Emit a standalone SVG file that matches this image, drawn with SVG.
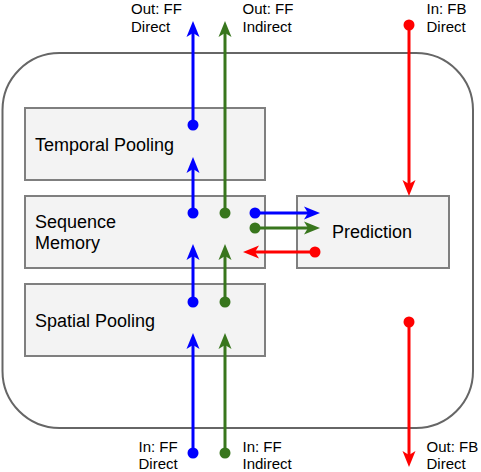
<svg xmlns="http://www.w3.org/2000/svg" width="481" height="472" viewBox="0 0 481 472">
<style>
.box{fill:#f3f3f3;stroke:#7f7f7f;stroke-width:2}
.lbl{font-family:"Liberation Sans",Arial,sans-serif;font-size:18px;fill:#000}
.io{font-family:"Liberation Sans",Arial,sans-serif;font-size:15px;fill:#000}
.b{stroke:#0000ff;stroke-width:3;fill:none;marker-start:url(#db);marker-end:url(#ab)}
.g{stroke:#38761d;stroke-width:3;fill:none;marker-start:url(#dg);marker-end:url(#ag)}
.r{stroke:#ff0000;stroke-width:3;fill:none;marker-start:url(#dr);marker-end:url(#ar)}
</style>
<defs>
<marker id="ab" markerUnits="userSpaceOnUse" viewBox="0 -8 20 16" markerWidth="20" markerHeight="16" refX="10" refY="0" orient="auto"><path d="M16,0 L0,-6.5 L4,0 L0,6.5 Z" fill="#0000ff"/></marker>
<marker id="ag" markerUnits="userSpaceOnUse" viewBox="0 -8 20 16" markerWidth="20" markerHeight="16" refX="10" refY="0" orient="auto"><path d="M16,0 L0,-6.5 L4,0 L0,6.5 Z" fill="#38761d"/></marker>
<marker id="ar" markerUnits="userSpaceOnUse" viewBox="0 -8 20 16" markerWidth="20" markerHeight="16" refX="10" refY="0" orient="auto"><path d="M16,0 L0,-6.5 L4,0 L0,6.5 Z" fill="#ff0000"/></marker>
<marker id="db" markerUnits="userSpaceOnUse" viewBox="-6 -6 12 12" markerWidth="12" markerHeight="12" refX="0" refY="0"><circle r="5.5" fill="#0000ff"/></marker>
<marker id="dg" markerUnits="userSpaceOnUse" viewBox="-6 -6 12 12" markerWidth="12" markerHeight="12" refX="0" refY="0"><circle r="5.5" fill="#38761d"/></marker>
<marker id="dr" markerUnits="userSpaceOnUse" viewBox="-6 -6 12 12" markerWidth="12" markerHeight="12" refX="0" refY="0"><circle r="5.5" fill="#ff0000"/></marker>
</defs>
<g id="container"><rect x="2.5" y="53" width="470.5" height="375" rx="57" ry="57" fill="none" stroke="#666" stroke-width="2"/></g>
<g id="temporal-pooling"><rect class="box" x="25" y="108" width="240" height="72"/><text class="lbl" x="35" y="151">Temporal Pooling</text></g>
<g id="sequence-memory"><rect class="box" x="25" y="196" width="240" height="72"/><text class="lbl" x="35" y="228">Sequence</text><text class="lbl" x="35" y="249">Memory</text></g>
<g id="spatial-pooling"><rect class="box" x="25" y="284" width="240" height="72"/><text class="lbl" x="35" y="327">Spatial Pooling</text></g>
<g id="prediction"><rect class="box" x="297" y="196" width="152" height="72"/><text class="lbl" x="332" y="238">Prediction</text></g>
<g id="labels">
<text class="io" x="131" y="14">Out: FF</text><text class="io" x="131" y="32">Direct</text>
<text class="io" x="242.5" y="14">Out: FF</text><text class="io" x="242.5" y="32">Indirect</text>
<text class="io" x="426.5" y="14">In: FB</text><text class="io" x="426.5" y="32">Direct</text>
<text class="io" x="138.5" y="452">In: FF</text><text class="io" x="138.5" y="469">Direct</text>
<text class="io" x="242.5" y="452">In: FF</text><text class="io" x="242.5" y="469">Indirect</text>
<text class="io" x="426.5" y="452">Out: FB</text><text class="io" x="426.5" y="469">Direct</text>
</g>
<g id="connectors">
<path class="b" d="M193,453 V339"/>
<path class="b" d="M193,302 V250"/>
<path class="b" d="M193,213 V163"/>
<path class="b" d="M193,125 V27"/>
<path class="g" d="M225,453 V339"/>
<path class="g" d="M225,302 V250"/>
<path class="g" d="M225,213 V27"/>
<path class="b" d="M255,213 H314"/>
<path class="g" d="M255,228 H314"/>
<path class="r" d="M315,252 H249"/>
<path class="r" d="M409,25 V190"/>
<path class="r" d="M409,322 V461"/>
</g>
</svg>
